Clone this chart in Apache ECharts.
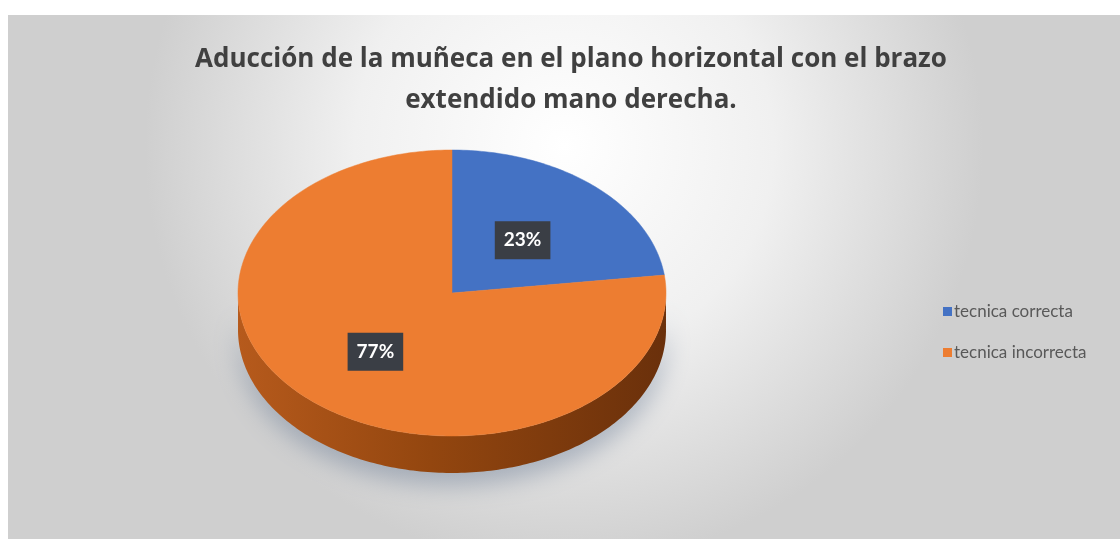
<!DOCTYPE html>
<html>
<head>
<meta charset="utf-8">
<script src="https://cdn.jsdelivr.net/npm/echarts@6/dist/echarts.min.js"></script>
<style>
  html, body { margin: 0; padding: 0; background: #ffffff; }
  #chart { width: 1120px; height: 539px; }
</style>
</head>
<body>
<div id="chart"></div>
<script>
// Chart data
const titleLines = ['Aducción de la muñeca en el plano horizontal con el brazo', 'extendido mano derecha.'];
const categories = ['tecnica correcta', 'tecnica incorrecta'];
const values = [23, 77];
const sliceColors = ['#4472C4', '#ED7D31'];

// Tilted pie geometry (top face ellipse + side wall depth)
const PIE = { cx: 452, cy: 293, rx: 214, ry: 143, depth: 37 };
const LABEL_POS = 0.52;

const total = values.reduce((a, b) => a + b, 0);
const starts = values.map((v, i) => values.slice(0, i).reduce((a, b) => a + b, 0));

function pointAt(theta, dy) {
  return [PIE.cx + PIE.rx * Math.cos(theta), PIE.cy - PIE.ry * Math.sin(theta) + (dy || 0)];
}
// fraction of the whole -> angle, starting at 12 o'clock and running clockwise
function angleOf(frac) {
  return Math.PI / 2 - frac * 2 * Math.PI;
}

function renderSlice(color) {
  return function (params, api) {
    const value = api.value(0);
    const start = api.value(1);
    const a0 = angleOf(start / total);
    const a1 = angleOf((start + value) / total);
    const steps = Math.max(8, Math.ceil((a0 - a1) / (Math.PI / 180)));
    const top = [[PIE.cx, PIE.cy]];
    const lower = [];
    for (let k = 0; k <= steps; k++) {
      const t = a0 + (a1 - a0) * k / steps;
      top.push(pointAt(t));
      if (Math.sin(t) <= 1e-9) lower.push(t);
    }
    const children = [];
    if (lower.length > 1) {
      const wall = lower.map(t => pointAt(t));
      for (let k = lower.length - 1; k >= 0; k--) wall.push(pointAt(lower[k], PIE.depth));
      children.push({
        type: 'polygon',
        shape: { points: wall },
        style: {
          fill: new echarts.graphic.LinearGradient(0, 0, 1, 0, [
            { offset: 0, color: '#b65a1c' },
            { offset: 0.45, color: '#93460f' },
            { offset: 1, color: '#6a300b' }
          ]),
          shadowBlur: 24,
          shadowOffsetY: 12,
          shadowColor: 'rgba(80, 100, 130, 0.4)'
        }
      });
    }
    children.push({
      type: 'polygon',
      shape: { points: top },
      style: { fill: color, stroke: color, lineWidth: 0.5 }
    });
    const mid = (a0 + a1) / 2;
    const lp = [PIE.cx + LABEL_POS * PIE.rx * Math.cos(mid), PIE.cy - LABEL_POS * PIE.ry * Math.sin(mid)];
    children.push({
      type: 'text',
      z2: 10,
      style: {
        text: Math.round(value / total * 100) + '%',
        x: lp[0] - 3,
        y: lp[1] + 3,
        align: 'center',
        verticalAlign: 'middle',
        fill: '#ffffff',
        font: 'bold 19px Lato',
        backgroundColor: '#3a3e45',
        padding: [10, 9, 9, 9],
        boxShadowBlur: 6,
        boxShadowOffsetX: 2,
        boxShadowOffsetY: 3,
        boxShadowColor: 'rgba(0,0,0,0.45)'
      }
    });
    return { type: 'group', children: children };
  };
}

const chart = echarts.init(document.getElementById('chart'), null, { renderer: 'canvas' });

const option = {
  animation: false,
  backgroundColor: '#ffffff',
  graphic: [{
    type: 'rect',
    z: -10,
    silent: true,
    shape: { x: 8, y: 15, width: 1112, height: 524 },
    style: {
      fill: new echarts.graphic.RadialGradient(0.5, 0.25, 0.8, [
        { offset: 0, color: '#ffffff' },
        { offset: 0.5, color: '#f0f0f0' },
        { offset: 1, color: '#cfcfcf' }
      ])
    }
  }],
  title: {
    text: titleLines.join('\n'),
    left: 566,
    textAlign: 'center',
    top: 34,
    textStyle: {
      fontFamily: 'Open Sans',
      fontWeight: 700,
      fontSize: 26,
      lineHeight: 41,
      color: '#404040'
    }
  },
  legend: {
    orient: 'vertical',
    left: 938,
    top: 298,
    icon: 'rect',
    itemWidth: 9,
    itemHeight: 9,
    itemGap: 24,
    data: categories,
    textStyle: { fontFamily: 'Lato', fontSize: 17, color: '#595959', padding: [0, 0, 0, -3] }
  },
  series: categories.map((name, i) => ({
    type: 'custom',
    name: name,
    coordinateSystem: 'none',
    itemStyle: { color: sliceColors[i] },
    data: [[values[i], starts[i]]],
    renderItem: renderSlice(sliceColors[i])
  }))
};

chart.setOption(option);
</script>
</body>
</html>
